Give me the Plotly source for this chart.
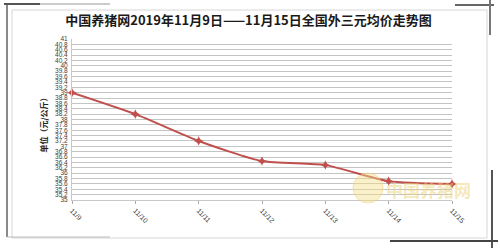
import plotly.graph_objects as go

dates = ["11/9", "11/10", "11/11", "11/12", "11/13", "11/14", "11/15"]
prices = [39.0, 38.2, 37.2, 36.45, 36.3, 35.7, 35.6]
title_text = "中国养猪网2019年11月9日——11月15日全国外三元均价走势图"
y_title = "单位（元/公斤）"

W, H = 500, 248
ML, MR, MT, MB = 72, 48, 39, 48
PW, PH = W - ML - MR, H - MT - MB

def px(x):
    return (x - ML) / PW

def py(y):
    return (H - MB - y) / PH

fig = go.Figure()
fig.add_trace(go.Scatter(
    x=dates, y=prices, mode="lines+markers",
    line=dict(color="#C0504D", width=2, shape="spline", smoothing=0.6),
    marker=dict(symbol="star-diamond", size=7, color="#C0504D"),
    cliponaxis=False, showlegend=False,
))

shapes = []
shapes.append(dict(type="rect", xref="paper", yref="paper",
                   x0=px(12), x1=px(487), y0=py(10), y1=py(238),
                   line=dict(color="#d6d6d6", width=1), layer="below"))
shapes.append(dict(type="line", xref="paper", yref="paper",
                   x0=px(7), x1=px(7), y0=py(4), y1=py(237),
                   line=dict(color="#8a8a8a", width=2)))
shapes.append(dict(type="line", xref="paper", yref="paper",
                   x0=px(4), x1=px(40), y0=py(4), y1=py(4),
                   line=dict(color="#555555", width=2)))
shapes.append(dict(type="line", xref="paper", yref="paper",
                   x0=px(40), x1=px(110), y0=py(4), y1=py(4),
                   line=dict(color="#cccccc", width=2)))
shapes.append(dict(type="line", xref="paper", yref="paper",
                   x0=px(455), x1=px(494), y0=py(5), y1=py(5),
                   line=dict(color="#666666", width=2)))
shapes.append(dict(type="line", xref="paper", yref="paper",
                   x0=px(490), x1=px(490), y0=py(0), y1=py(35),
                   line=dict(color="#777777", width=2)))
shapes.append(dict(type="line", xref="paper", yref="paper",
                   x0=px(492), x1=px(492), y0=py(170), y1=py(248),
                   line=dict(color="#555555", width=2)))
shapes.append(dict(type="line", xref="paper", yref="paper",
                   x0=px(390), x1=px(498), y0=py(241), y1=py(241),
                   line=dict(color="#444444", width=2)))
shapes.append(dict(type="line", xref="paper", yref="paper",
                   x0=px(7), x1=px(110), y0=py(237), y1=py(237),
                   line=dict(color="#bbbbbb", width=1)))
shapes.append(dict(type="circle", xref="paper", yref="paper",
                   x0=px(353), x1=px(383), y0=py(173), y1=py(203),
                   fillcolor="rgba(245,225,140,0.45)",
                   line=dict(color="rgba(235,205,110,0.5)", width=1)))

annotations = [
    dict(text="<b>" + y_title + "</b>", xref="paper", yref="paper", x=px(35), y=py(123),
         textangle=-90, showarrow=False,
         font=dict(size=8, color="#222222", family="Noto Sans CJK SC")),
    dict(text="<b>中国养猪网</b>", xref="paper", yref="paper", x=px(428), y=py(189),
         xanchor="center", yanchor="middle", showarrow=False,
         font=dict(size=17, color="rgba(236,210,120,0.5)", family="Noto Sans CJK SC")),
]

fig.update_layout(
    width=W, height=H,
    margin=dict(l=ML, r=MR, t=MT, b=MB),
    paper_bgcolor="white", plot_bgcolor="white",
    title=dict(text="<b>" + title_text + "</b>", xref="container", yref="container",
               x=0.497, y=1 - 20 / H, xanchor="center", yanchor="middle",
               font=dict(size=13, color="#1a1a1a", family="Noto Sans CJK SC")),
    xaxis=dict(type="category", range=[0, len(dates) - 1], showgrid=False,
               tickangle=45, tickfont=dict(size=7, color="#404040", family="Liberation Sans"),
               ticks="outside", ticklen=3, tickcolor="#aaaaaa",
               showline=True, linecolor="#c8c8c8", linewidth=1, zeroline=False),
    yaxis=dict(range=[35, 41], tickmode="linear", tick0=35, dtick=0.2,
               showgrid=True, gridcolor="#c4c4c4", gridwidth=1,
               tickfont=dict(size=6.5, color="#404040", family="Liberation Sans"),
               showline=True, linecolor="#c8c8c8", linewidth=1, zeroline=False,
               ticks="", ticklabelstandoff=2),
    shapes=shapes, annotations=annotations,
)

fig.write_html("out.html")
